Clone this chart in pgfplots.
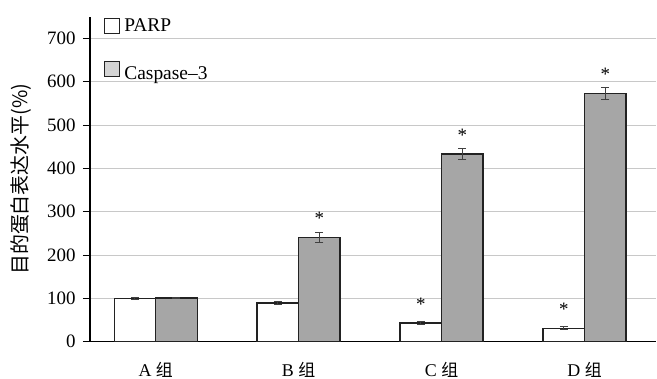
\documentclass[border=0pt]{standalone}
\usepackage{fontspec}
\setmainfont{Liberation Serif}
\newfontfamily\cjk{Noto Sans CJK SC}
\usepackage{pgfplots}
\usepackage{pgfplotstable}
\pgfplotsset{compat=1.18}
\definecolor{barfill}{HTML}{A6A6A6}
\definecolor{legfill}{HTML}{D4D4D4}
\definecolor{gridc}{HTML}{C8C8C8}
\definecolor{edge}{HTML}{222222}
\definecolor{errc}{HTML}{404040}
\pgfplotstableread{
x y e s
0 100 2 n
1 89 3 n
2 43 3 y
3 31 3 y
}\parp
\pgfplotstableread{
x y e s
0 101 2 n
1 240 12 y
2 433 13 y
3 573 13 y
}\casp
\begin{document}
\begin{tikzpicture}
\begin{axis}[
  name=ax,
  scale only axis,
  width=566bp, height=325bp,
  ymin=0, ymax=750,
  xmin=-0.46, xmax=3.5,
  ytick={0,100,...,700},
  xtick={0,1,2,3},
  xticklabels={A {\cjk\fontsize{17}{20}\selectfont 组},B {\cjk\fontsize{17}{20}\selectfont 组},C {\cjk\fontsize{17}{20}\selectfont 组},D {\cjk\fontsize{17}{20}\selectfont 组}},
  axis x line=bottom, axis y line=left,
  axis line style={line width=1.3bp, black, -},
  x axis line style={-}, y axis line style={-},
  ymajorgrids, grid style={gridc, line width=1bp},
  tick align=outside,
  major tick length=7bp,
  xtick style={draw=none},
  ytick style={line width=1bp, black},
  font=\fontsize{19}{22}\selectfont,
  /pgf/number format/assume math mode=true,
  yticklabel style={xshift=-4bp},
  xticklabel style={yshift=-10bp, font=\fontsize{18}{22}\selectfont},
  ylabel={\cjk\fontsize{20}{22}\selectfont 目的蛋白表达水平(\%)},
  ylabel style={at={(axis description cs:0,0.5)}, anchor=center, yshift=69bp},
  ybar=0pt, bar width=41.5bp,
  error bars/error bar style={errc, line width=1bp},
  error bars/error mark options={rotate=90, mark size=4bp, errc, line width=1bp},
  point meta=explicit symbolic,
  nodes near coords={\if y\pgfplotspointmeta *\fi},
  nodes near coords style={anchor=center, yshift=19bp, text=black, font=\fontsize{19}{20}\selectfont},
  legend style={draw=none, fill=none, at={(rel axis cs:0.0247,1)}, anchor=north west,
    inner sep=0pt, row sep=26bp, nodes={inner sep=2bp}, font=\fontsize{19.5}{22}\selectfont},
  legend cell align=left,
  clip=false,
]
\addplot[fill=white, draw=edge, line width=1.4bp,
  legend image code/.code={\draw[line width=1.2bp, draw=edge, fill=white] (0bp,-7.5bp) rectangle (15bp,7.5bp);},
  error bars/.cd, y dir=both, y explicit]
  table[x=x, y=y, y error=e, meta=s]{\parp};
\addlegendentry{\hspace{2bp}PARP}
\addplot[fill=barfill, draw=edge, line width=1.4bp,
  legend image code/.code={\draw[line width=1.2bp, draw=edge, fill=legfill] (0bp,-7.5bp) rectangle (15bp,7.5bp);},
  error bars/.cd, y dir=both, y explicit]
  table[x=x, y=y, y error=e, meta=s]{\casp};
\addlegendentry{\hspace{2bp}\raisebox{-9bp}{Caspase--3}}
\end{axis}
\pgfresetboundingbox
\path ([xshift=-90bp,yshift=-37.3bp]ax.south west) rectangle ([xshift=1bp,yshift=16.7bp]ax.north east);
\end{tikzpicture}
\end{document}
